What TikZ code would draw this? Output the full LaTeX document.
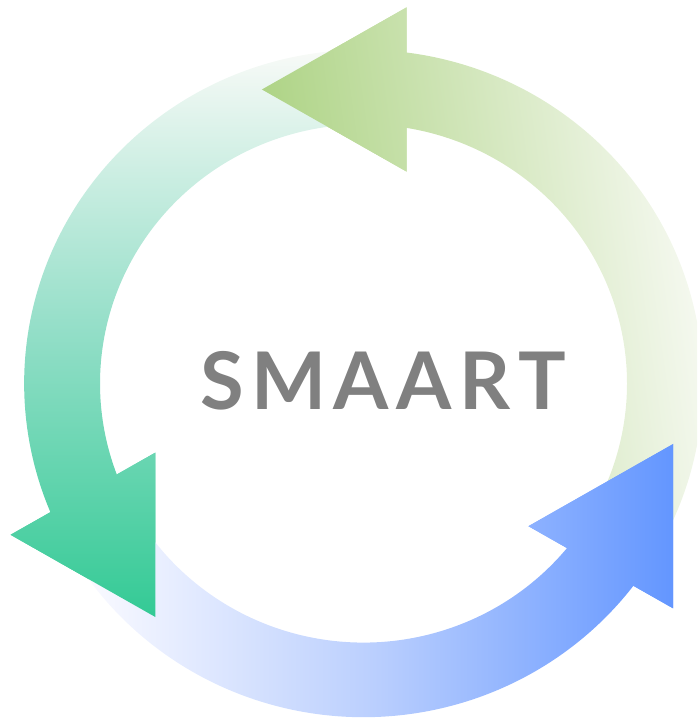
\documentclass[tikz,border=0pt]{standalone}
\usepackage{fontspec}
\setmainfont{Lato}
\definecolor{greenDark}{HTML}{A9D17E}
\definecolor{greenMid}{HTML}{D0E5B8}
\definecolor{greenPale}{HTML}{F8FAF4}
\definecolor{tealPale}{HTML}{F8FAF7}
\definecolor{tealMid}{HTML}{92DEC7}
\definecolor{tealDark}{HTML}{33CA95}
\definecolor{bluePale}{HTML}{FAFAFF}
\definecolor{blueMid}{HTML}{B9CEFE}
\definecolor{blueDark}{HTML}{6396FF}
\definecolor{labelgray}{HTML}{808080}
\tikzset{
  greenshade/.style={top color=greenDark, bottom color=greenPale, middle color=greenMid, shading angle=98},
  tealshade/.style={top color=tealPale, bottom color=tealDark, middle color=tealMid},
  blueshade/.style={left color=bluePale, right color=blueDark, middle color=blueMid},
  labeltext/.style={font=\fontsize{79.5}{80}\selectfont\bfseries, text=labelgray, anchor=base, inner sep=0pt}
}
\begin{document}
\begin{tikzpicture}[x=1pt,y=1pt]
\useasboundingbox (0,0) rectangle (697,722);
\clip (0,0) rectangle (697,722);
\begin{scope}[shift={(363.5,338.5)}, xscale=1.017]
  % green arrow (band + head)
  \begin{scope}
    \clip (-25:333.7) arc[start angle=-25,end angle=82.68,radius=333.7] -- (42.5,376.2) -- (-99.9,294) -- (42.5,211.8) -- (80.56:259.1) arc[start angle=80.56,end angle=-25,radius=259.1] -- cycle;
    \shade[greenshade] (-100,-141) rectangle (334,377);
  \end{scope}
  % teal arrow
  \begin{scope}
    \clip[rotate=120] (-25:333.7) arc[start angle=-25,end angle=82.68,radius=333.7] -- (42.5,376.2) -- (-99.9,294) -- (42.5,211.8) -- (80.56:259.1) arc[start angle=80.56,end angle=-25,radius=259.1] -- cycle;
    \shade[tealshade] (-348,-234) rectangle (-22,333);
  \end{scope}
  % blue arrow
  \begin{scope}
    \clip[rotate=240] (-25:333.7) arc[start angle=-25,end angle=82.68,radius=333.7] -- (42.5,376.2) -- (-99.9,294) -- (42.5,211.8) -- (80.56:259.1) arc[start angle=80.56,end angle=-25,radius=259.1] -- cycle;
    \shade[blueshade] (-274,-334) rectangle (305,-60);
  \end{scope}
  % heads on top of the following tails
  \begin{scope}
    \clip (42.5,376.2) -- (-99.9,294) -- (42.5,211.8) -- cycle;
    \shade[greenshade] (-100,-141) rectangle (334,377);
  \end{scope}
  \begin{scope}
    \clip[rotate=120] (42.5,376.2) -- (-99.9,294) -- (42.5,211.8) -- cycle;
    \shade[tealshade] (-348,-234) rectangle (-22,333);
  \end{scope}
  \begin{scope}
    \clip[rotate=240] (42.5,376.2) -- (-99.9,294) -- (42.5,211.8) -- cycle;
    \shade[blueshade] (-274,-334) rectangle (305,-60);
  \end{scope}
\end{scope}
\node[labeltext] (smaart) at (383,312) {S\kern7.5pt M\kern7.5pt A\kern7.5pt A\kern7.5pt R\kern7.5pt T};
\end{tikzpicture}
\end{document}
